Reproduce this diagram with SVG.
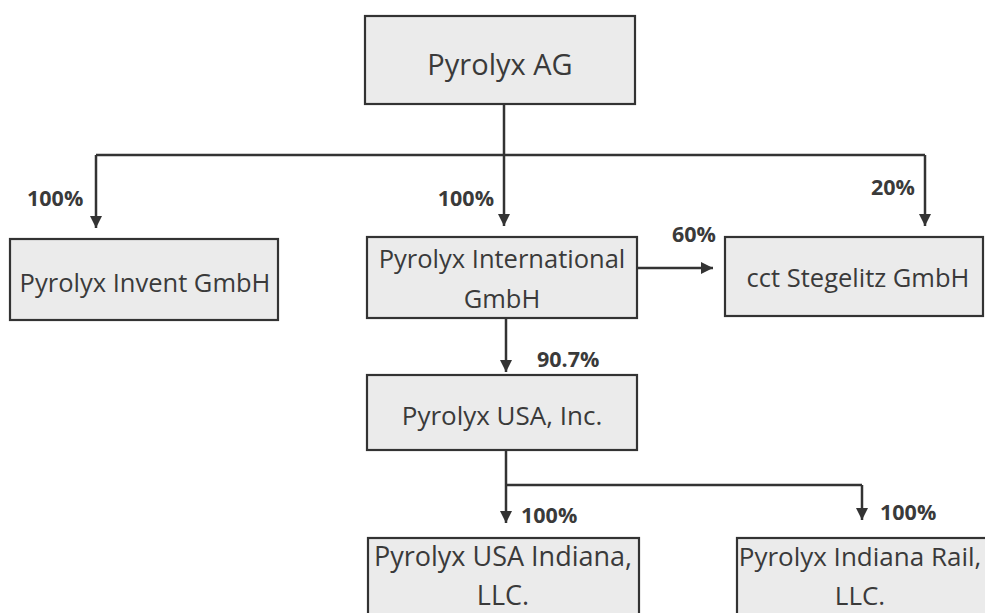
<svg xmlns="http://www.w3.org/2000/svg" width="985" height="613" viewBox="0 0 985 613">
<defs>
<style>
.box{fill:#ebebeb;stroke:#333;stroke-width:2.2}
.t{font-family:"Open Sans","Noto Sans",sans-serif;font-size:25.5px;fill:#3a3a3a;text-anchor:middle}
.lbl{font-family:"Open Sans","Noto Sans",sans-serif;font-size:21.5px;font-weight:bold;fill:#3a3a3a}
.c{fill:none;stroke:#333;stroke-width:2.5}
</style>
<marker id="ah" markerUnits="userSpaceOnUse" markerWidth="12" markerHeight="14" viewBox="0 0 12 14" refX="12" refY="7" orient="auto">
<path d="M0,1 L12,7 L0,13 Z" fill="#333"/>
</marker>
</defs>
<rect width="985" height="613" fill="#fff"/>
<g id="connectors">
<line class="c" x1="504" y1="104" x2="504" y2="155"/>
<line class="c" x1="96" y1="155" x2="925" y2="155"/>
<line class="c" x1="96" y1="155" x2="96" y2="228" marker-end="url(#ah)"/>
<line class="c" x1="504" y1="155" x2="504" y2="226" marker-end="url(#ah)"/>
<line class="c" x1="925" y1="155" x2="925" y2="226" marker-end="url(#ah)"/>
<line class="c" x1="637" y1="268" x2="713" y2="268" marker-end="url(#ah)"/>
<line class="c" x1="506" y1="318" x2="506" y2="372" marker-end="url(#ah)"/>
<line class="c" x1="506" y1="450" x2="506" y2="485"/>
<line class="c" x1="506" y1="485" x2="862" y2="485"/>
<line class="c" x1="506" y1="485" x2="506" y2="523" marker-end="url(#ah)"/>
<line class="c" x1="862" y1="485" x2="862" y2="520" marker-end="url(#ah)"/>
<text class="lbl" x="27" y="206">100%</text>
<text class="lbl" x="494" y="206" text-anchor="end">100%</text>
<text class="lbl" x="915" y="195" text-anchor="end">20%</text>
<text class="lbl" x="672" y="242">60%</text>
<text class="lbl" x="537" y="367">90.7%</text>
<text class="lbl" x="521" y="523">100%</text>
<text class="lbl" x="880" y="520">100%</text>
</g>
<g id="pyrolyx-ag">
<rect class="box" x="365" y="16" width="270" height="88"/>
<text class="t" x="500" y="75" style="font-size:29px">Pyrolyx AG</text>
</g>
<g id="pyrolyx-invent">
<rect class="box" x="10" y="239" width="268" height="81"/>
<text class="t" x="145" y="292" style="font-size:25.5px">Pyrolyx Invent GmbH</text>
</g>
<g id="pyrolyx-international">
<rect class="box" x="367" y="237" width="270" height="81"/>
<text class="t" x="502" y="268">Pyrolyx International</text>
<text class="t" x="502" y="308">GmbH</text>
</g>
<g id="cct-stegelitz">
<rect class="box" x="725" y="237" width="258" height="79"/>
<text class="t" x="858" y="287" style="font-size:25.5px">cct Stegelitz GmbH</text>
</g>
<g id="pyrolyx-usa">
<rect class="box" x="367" y="375" width="270" height="75"/>
<text class="t" x="502" y="425" style="font-size:26px">Pyrolyx USA, Inc.</text>
</g>
<g id="pyrolyx-usa-indiana">
<rect class="box" x="368" y="538" width="271" height="82"/>
<text class="t" x="503" y="566" style="font-size:27px">Pyrolyx USA Indiana,</text>
<text class="t" x="503" y="605" style="font-size:27px">LLC.</text>
</g>
<g id="pyrolyx-indiana-rail">
<rect class="box" x="737" y="538" width="250" height="82"/>
<text class="t" x="860" y="566" style="font-size:26px">Pyrolyx Indiana Rail,</text>
<text class="t" x="860" y="605" style="font-size:26px">LLC.</text>
</g>
</svg>
